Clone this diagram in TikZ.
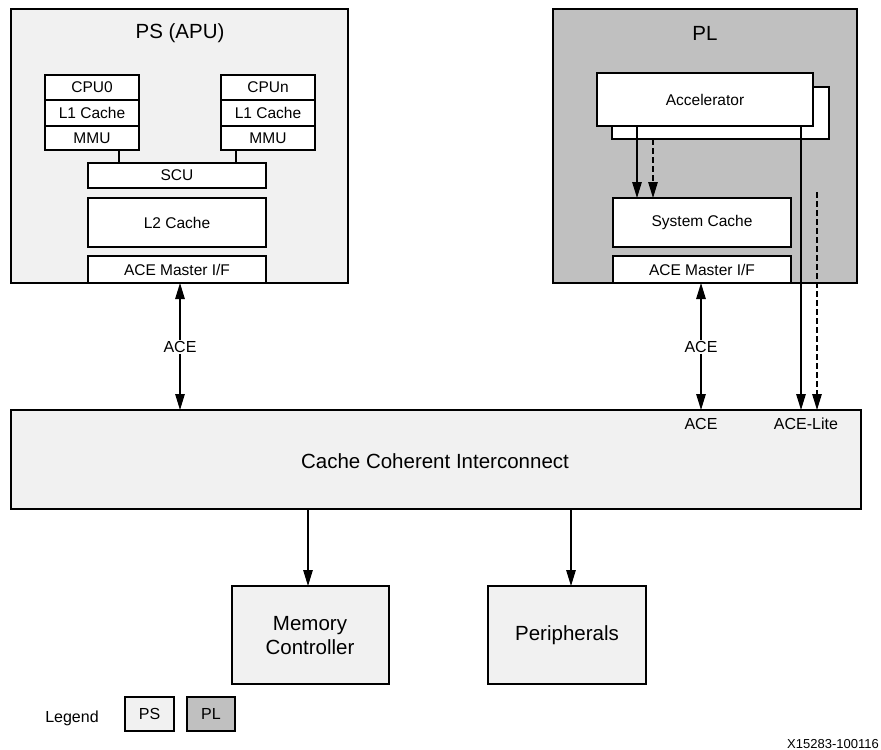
\documentclass[tikz,border=0pt]{standalone}
\usepackage{fontspec}
\setmainfont{Liberation Sans}
\usetikzlibrary{arrows.meta}
\definecolor{psfill}{HTML}{F1F1F1}
\definecolor{plfill}{HTML}{C0C0C0}
\newcommand{\bigf}{\fontsize{20.5bp}{24bp}\selectfont}
\newcommand{\smf}{\fontsize{15.5bp}{18bp}\selectfont}
\newcommand{\lbf}{\fontsize{16bp}{19bp}\selectfont}
\begin{document}
\begin{tikzpicture}[x=1bp,y=-1bp,
  region/.style={draw,line width=2.8bp,inner sep=0pt,outer sep=0pt},
  blk/.style={draw,line width=2.2bp,fill=white,inner sep=0pt,outer sep=0pt,font=\smf},
  bigbox/.style={draw,line width=2.8bp,fill=psfill,inner sep=0pt,outer sep=0pt,font=\bigf,align=center},
  arr/.style={line width=1.2bp,-{Triangle[length=16bp,width=9.5bp]}},
  darr/.style={arr,dash pattern=on 6bp off 3bp},
  thin/.style={line width=1.2bp},
  lbl/.style={font=\lbf,inner sep=1bp}]
\useasboundingbox (0,0) rectangle (881,750);
\fill[white] (0,0) rectangle (881,750);
% regions
\node[region,fill=psfill,minimum width=337bp,minimum height=274bp,anchor=north west] (ps) at (11,9) {};
\node[region,fill=plfill,minimum width=304bp,minimum height=274bp,anchor=north west] (pl) at (553,9) {};
\node[font=\bigf] (pst) at (180,33) {PS (APU)};
\node[font=\bigf] (plt) at (705,33) {PL};
% CPU stacks
\node[blk,minimum width=94bp,minimum height=25bp,anchor=north west] (cpu0) at (45,75) {CPU0};
\node[blk,minimum width=94bp,minimum height=26bp,anchor=north west] (l1a) at (45,100) {L1 Cache};
\node[blk,minimum width=94bp,minimum height=24bp,anchor=north west] (mmu0) at (45,126) {MMU};
\node[blk,minimum width=94bp,minimum height=25bp,anchor=north west] (cpun) at (221,75) {CPUn};
\node[blk,minimum width=94bp,minimum height=26bp,anchor=north west] (l1n) at (221,100) {L1 Cache};
\node[blk,minimum width=94bp,minimum height=24bp,anchor=north west] (mmun) at (221,126) {MMU};
\node[blk,minimum width=178bp,minimum height=25bp,anchor=north west] (scu) at (88,163) {SCU};
\node[blk,minimum width=178bp,minimum height=49bp,anchor=north west] (l2) at (88,198) {L2 Cache};
\node[blk,minimum width=178bp,minimum height=27bp,anchor=north west] (acemps) at (88,256) {ACE Master I/F};
% PL internals
\node[blk,minimum width=217bp,minimum height=52bp,anchor=north west] (accback) at (612,87) {};
\node[blk,minimum width=216bp,minimum height=53bp,anchor=north west] (acc) at (597,73) {Accelerator};
\node[blk,minimum width=178bp,minimum height=49bp,anchor=north west] (sysc) at (613,198) {System Cache};
\node[blk,minimum width=178bp,minimum height=27bp,anchor=north west] (acempl) at (613,256) {ACE Master I/F};
% interconnect and below
\node[bigbox,minimum width=850bp,minimum height=99bp,anchor=north west] (cci) at (11,410) {};
\node[font=\bigf] (ccit) at (435,461) {Cache Coherent Interconnect};
\node[lbl] (acein) at (701,424) {ACE};
\node[lbl] (acelite) at (806,424) {ACE-Lite};
\node[bigbox,minimum width=157bp,minimum height=98bp,anchor=north west] (memc) at (232,586) {};
\node[font=\bigf,align=center] (memct) at (310,636) {Memory\\[0pt]Controller};
\node[bigbox,minimum width=158bp,minimum height=98bp,anchor=north west] (peri) at (488,586) {Peripherals};
% legend
\node[lbl] (leg) at (72,718) {Legend};
\node[region,line width=2.2bp,fill=psfill,minimum width=49bp,minimum height=34bp,anchor=north west,font=\lbf] (legps) at (125,697) {PS};
\node[region,line width=2.2bp,fill=plfill,minimum width=48bp,minimum height=34bp,anchor=north west,font=\lbf] (legpl) at (187,697) {PL};
\node[font=\fontsize{13bp}{15bp}\selectfont,anchor=east,inner sep=0pt] (xid) at (879,744) {X15283-100116};
% connectors inside PS
\draw[thin] (mmu0.south -| 119,0) -- (scu.north -| 119,0);
\draw[thin] (mmun.south -| 236,0) -- (scu.north -| 236,0);
% ACE links
\node[lbl] (ace1) at (180,347) {ACE};
\node[lbl] (ace2) at (701,347) {ACE};
\draw[arr] (ace1.north) -- (acemps.south -| ace1.north);
\draw[arr] (ace1.south) -- (cci.north -| ace1.south);
\draw[arr] (ace2.north) -- (acempl.south -| ace2.north);
\draw[arr] (ace2.south) -- (cci.north -| ace2.south);
% accelerator links
\draw[arr] (acc.south -| 637,0) -- (sysc.north -| 637,0);
\draw[darr] (accback.south -| 653,0) -- (sysc.north -| 653,0);
\draw[arr] (acc.south -| 801,0) -- (cci.north -| 801,0);
\coordinate (dtop) at (817,192);
\draw[darr] (dtop) -- (cci.north -| dtop);
% down links
\draw[arr] (cci.south -| 308,0) -- (memc.north -| 308,0);
\draw[arr] (cci.south -| 571,0) -- (peri.north -| 571,0);
\end{tikzpicture}
\end{document}
